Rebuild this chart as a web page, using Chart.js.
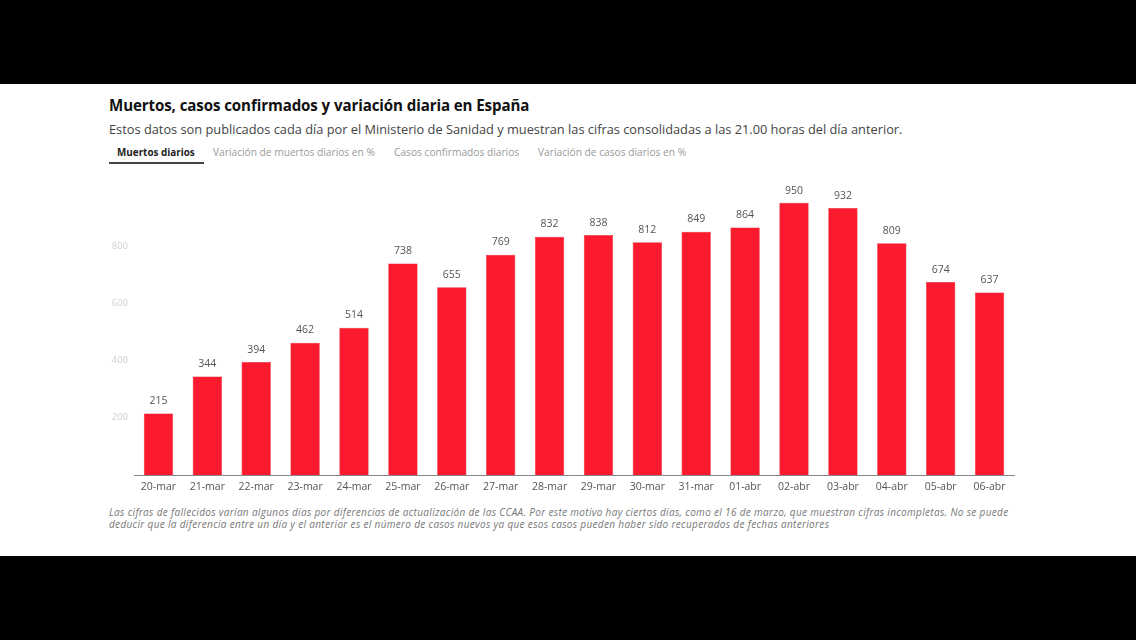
<!DOCTYPE html>
<html>
<head>
<meta charset="utf-8">
<script src="https://cdn.jsdelivr.net/npm/chart.js@4/dist/chart.umd.min.js"></script>
<style>
  html, body { margin:0; padding:0; background:#000; width:1136px; height:640px; overflow:hidden; }
  #card { position:absolute; left:0; top:84px; width:1136px; height:472px; background:#fff; }
  .t { position:absolute; white-space:nowrap; font-family:"Open Sans", sans-serif; }
  #title { left:109px; top:95px; font-size:15.1px; font-weight:700; color:#111; letter-spacing:-0.1px; }
  #sub { left:109px; top:120px; font-size:12.8px; color:#444; }
  .tab { top:145px; font-size:10.2px; color:#9a9a9a; }
  #tab0 { left:117px; color:#222; font-weight:700; font-size:9.9px; }
  #uline { position:absolute; left:109px; top:162px; width:95px; height:2px; background:#444; }
  .note { left:109px; font-size:10px; letter-spacing:0.33px; font-style:italic; color:#777; }
  #chartwrap { position:absolute; left:108px; top:170px; width:912px; height:330px; }
</style>
</head>
<body>
<div id="card"></div>
<div class="t" id="title">Muertos, casos confirmados y variación diaria en España</div>
<div class="t" id="sub">Estos datos son publicados cada día por el Ministerio de Sanidad y muestran las cifras consolidadas a las 21.00 horas del día anterior.</div>
<div class="t tab" id="tab0">Muertos diarios</div>
<div class="t tab" style="left:213px">Variación de muertos diarios en %</div>
<div class="t tab" style="left:394px">Casos confirmados diarios</div>
<div class="t tab" style="left:538px">Variación de casos diarios en %</div>
<div id="uline"></div>
<div id="chartwrap"><canvas id="c" width="912" height="330"></canvas></div>
<div class="t note" style="top:505px">Las cifras de fallecidos varían algunos días por diferencias de actualización de las CCAA. Por este motivo hay ciertos días, como el 16 de marzo, que muestran cifras incompletas. No se puede</div>
<div class="t note" style="top:517px">deducir que la diferencia entre un día y el anterior es el número de casos nuevos ya que esos casos pueden haber sido recuperados de fechas anteriores</div>
<script>
const categories = ["20-mar","21-mar","22-mar","23-mar","24-mar","25-mar","26-mar","27-mar","28-mar","29-mar","30-mar","31-mar","01-abr","02-abr","03-abr","04-abr","05-abr","06-abr"];
const muertosDiarios = [215,344,394,462,514,738,655,769,832,838,812,849,864,950,932,809,674,637];
const yTicks = [200,400,600,800];

const valueLabels = {
  id: 'valueLabels',
  afterDatasetsDraw(chart) {
    const ctx = chart.ctx;
    const meta = chart.getDatasetMeta(0);
    ctx.save();
    ctx.font = '10.5px "Open Sans", sans-serif';
    ctx.fillStyle = '#555';
    ctx.textAlign = 'center';
    ctx.textBaseline = 'bottom';
    meta.data.forEach((el, i) => {
      ctx.fillText(String(chart.data.datasets[0].data[i]), el.x, el.y - 7);
    });
    ctx.restore();
  }
};

new Chart(document.getElementById('c'), {
  type: 'bar',
  data: {
    labels: categories,
    datasets: [{
      data: muertosDiarios,
      backgroundColor: 'rgb(252,26,46)',
      borderColor: 'rgb(220,20,38)',
      borderWidth: 0.5,
      barPercentage: 0.6,
      categoryPercentage: 1.0
    }]
  },
  options: {
    responsive: false,
    animation: false,
    devicePixelRatio: 1,
    layout: { padding: { top: 18.5, right: 6, left: 0, bottom: 0 } },
    plugins: { legend: { display: false }, tooltip: { enabled: false } },
    scales: {
      x: {
        grid: { display: false, drawTicks: false },
        border: { display: true, color: '#888', width: 1 },
        ticks: { color: '#555', font: { family: '"Open Sans", sans-serif', size: 10.5 }, padding: 6, maxRotation: 0, autoSkip: false },
        afterFit(scale) { scale.height = 25; }
      },
      y: {
        min: 0, max: 1000,
        grid: { display: false, drawTicks: false },
        border: { display: false },
        afterBuildTicks(scale) { scale.ticks = yTicks.map(v => ({ value: v })); },
        ticks: { color: '#cfcfcf', font: { family: '"Open Sans", sans-serif', size: 9.5 }, padding: 6 },
        afterFit(scale) { scale.width = 26; }
      }
    }
  },
  plugins: [valueLabels]
});
</script>
</body>
</html>
